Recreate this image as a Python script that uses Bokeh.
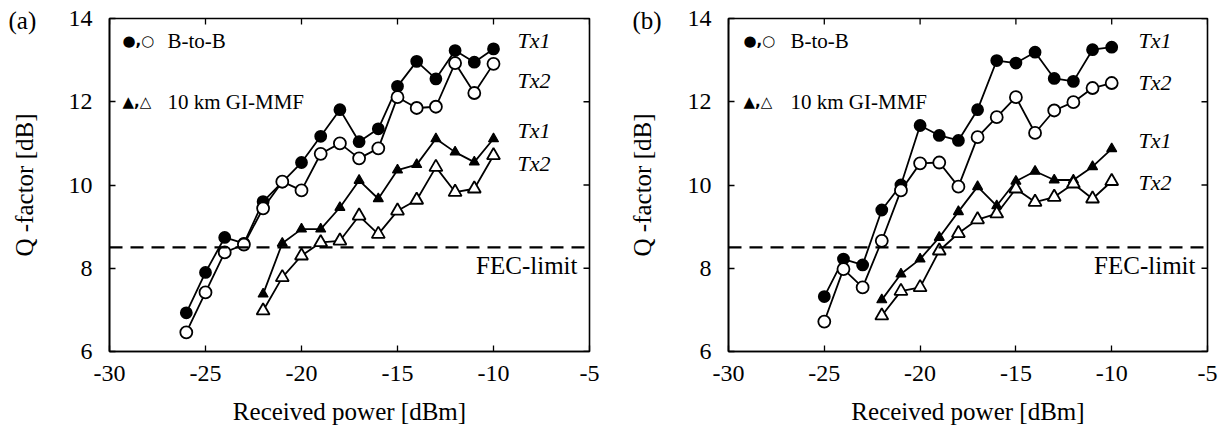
import math
from bokeh.plotting import figure
from bokeh.layouts import row
from bokeh.models import Range1d, FixedTicker, Span, Label, LinearAxis
from bokeh.embed import file_html
from bokeh.resources import INLINE

# ---------------- data ----------------
x_ticks = [-30, -25, -20, -15, -10, -5]
y_ticks = [6, 8, 10, 12, 14]
fec_limit = 8.5

# panel (a)
x_btb_a = [-26, -25, -24, -23, -22, -21, -20, -19, -18, -17, -16, -15, -14, -13, -12, -11, -10]
btb_tx1_a = [6.93, 7.90, 8.74, 8.60, 9.60, 10.07, 10.54, 11.17, 11.81, 11.04, 11.35, 12.37, 12.97, 12.55, 13.23, 12.95, 13.27]
btb_tx2_a = [6.46, 7.42, 8.38, 8.57, 9.44, 10.08, 9.87, 10.75, 11.00, 10.64, 10.88, 12.11, 11.85, 11.88, 12.93, 12.21, 12.91]
x_mmf_a = [-22, -21, -20, -19, -18, -17, -16, -15, -14, -13, -12, -11, -10]
mmf_tx1_a = [7.38, 8.60, 8.94, 8.94, 9.46, 10.11, 9.67, 10.36, 10.49, 11.11, 10.79, 10.55, 11.11]
mmf_tx2_a = [6.98, 7.78, 8.30, 8.62, 8.66, 9.26, 8.82, 9.38, 9.64, 10.43, 9.83, 9.91, 10.71]

# panel (b)
x_btb_b = [-25, -24, -23, -22, -21, -20, -19, -18, -17, -16, -15, -14, -13, -12, -11, -10]
btb_tx1_b = [7.32, 8.22, 8.08, 9.40, 10.00, 11.43, 11.19, 11.07, 11.81, 12.99, 12.93, 13.19, 12.56, 12.49, 13.25, 13.31]
btb_tx2_b = [6.72, 7.98, 7.54, 8.66, 9.87, 10.52, 10.54, 9.96, 11.15, 11.63, 12.11, 11.25, 11.79, 11.99, 12.33, 12.45]
x_mmf_b = [-22, -21, -20, -19, -18, -17, -16, -15, -14, -13, -12, -11, -10]
mmf_tx1_b = [7.24, 7.86, 8.22, 8.74, 9.36, 9.96, 9.50, 10.09, 10.33, 10.12, 10.12, 10.44, 10.87]
mmf_tx2_b = [6.86, 7.45, 7.54, 8.42, 8.84, 9.17, 9.31, 9.91, 9.59, 9.71, 10.03, 9.67, 10.09]

# Tx annotations: (text, y value)
tx_labels_a = [("Tx1", 13.47), ("Tx2", 12.51), ("Tx1", 11.31), ("Tx2", 10.51)]
tx_labels_b = [("Tx1", 13.47), ("Tx2", 12.46), ("Tx1", 11.07), ("Tx2", 10.06)]

SERIF = "Liberation Serif"


def style_axis(ax, ticks, standoff):
    ax.ticker = FixedTicker(ticks=ticks)
    ax.major_label_overrides = {t: str(t) for t in ticks}
    ax.axis_line_color = "black"
    ax.axis_line_width = 1.6
    ax.major_tick_in = 6
    ax.major_tick_out = 0
    ax.major_tick_line_color = "black"
    ax.major_tick_line_width = 1.3
    ax.minor_tick_in = 0
    ax.minor_tick_out = 0
    ax.major_label_text_font = SERIF
    ax.major_label_text_color = "black"
    ax.major_label_text_font_size = "24px"
    ax.major_label_standoff = standoff
    ax.axis_label_text_font = SERIF
    ax.axis_label_text_font_style = "normal"
    ax.axis_label_text_font_size = "25px"
    ax.axis_label_text_color = "black"


def make_panel(tag, tag_off, xb, b1, b2, xm, m1, m2, txl, fw, mbl, mbr,
               leg_sym_off, leg_txt_off, tx_x):
    p = figure(frame_width=fw, frame_height=333,
               x_range=Range1d(x_ticks[0], x_ticks[-1]), y_range=Range1d(y_ticks[0], y_ticks[-1]),
               output_backend="svg", toolbar_location=None,
               min_border_left=mbl, min_border_right=mbr,
               min_border_top=18, min_border_bottom=0,
               background_fill_color="white", border_fill_color="white")
    p.grid.visible = False
    p.outline_line_color = "black"
    p.outline_line_width = 1.6

    xa = p.xaxis[0]
    ya = p.yaxis[0]
    style_axis(xa, x_ticks, 14)
    style_axis(ya, y_ticks, 17)
    xa.axis_label = "Received power [dBm]"
    xa.axis_label_standoff = 14

    # panel tag, kept in the left side panel so that it is not clipped by the frame
    p.add_layout(Label(x=x_ticks[0], y=y_ticks[-1], x_offset=-tag_off, y_offset=-2, text=tag,
                       text_font=SERIF, text_font_size="25px", text_color="black",
                       text_baseline="alphabetic", text_align="left"), "left")

    # y-axis title on its own tick-less axis, outside the tag
    qa = LinearAxis(ticker=FixedTicker(ticks=[]), axis_label="Q -factor [dB]")
    qa.axis_line_color = None
    qa.major_tick_out = 0
    qa.major_tick_in = 0
    qa.minor_tick_in = 0
    qa.minor_tick_out = 0
    qa.major_label_standoff = 0
    qa.axis_label_standoff = 0
    qa.axis_label_text_font = SERIF
    qa.axis_label_text_font_style = "normal"
    qa.axis_label_text_font_size = "25px"
    qa.axis_label_text_color = "black"
    p.add_layout(qa, "left")

    # inward ticks on the top and right edges (half of each dash is clipped by the frame)
    p.scatter(x=x_ticks, y=[y_ticks[-1]] * len(x_ticks), marker="dash", angle=math.pi / 2,
              size=12, line_color="black", line_width=1.3)
    p.scatter(x=[x_ticks[-1]] * len(y_ticks), y=y_ticks, marker="dash",
              size=12, line_color="black", line_width=1.3)

    # FEC limit
    p.add_layout(Span(location=fec_limit, dimension="width", line_color="black",
                      line_width=2.2, line_dash="13 8"))

    lw = 1.8
    # B-to-B
    p.line(xb, b1, line_color="black", line_width=lw)
    p.scatter(xb, b1, marker="circle", size=11, fill_color="black", line_color="black", line_width=lw)
    p.line(xb, b2, line_color="black", line_width=lw)
    p.scatter(xb, b2, marker="circle", size=12, fill_color="white", line_color="black", line_width=lw)
    # 10 km GI-MMF
    p.line(xm, m1, line_color="black", line_width=lw)
    p.scatter(xm, m1, marker="triangle", size=10, fill_color="black", line_color="black", line_width=1.2)
    p.line(xm, m2, line_color="black", line_width=lw)
    p.scatter(xm, m2, marker="triangle", size=13, fill_color="white", line_color="black", line_width=lw)

    # legend (symbols as text)
    for sym, txt, yv in [("\u25CF,\u25CB", "B-to-B", 13.47),
                         ("\u25B2,\u25B3", "10 km GI-MMF", 12.0)]:
        p.add_layout(Label(x=x_ticks[0], y=yv, x_offset=leg_sym_off, text=sym,
                           text_font="DejaVu Sans", text_font_style="bold",
                           text_font_size="15px", text_color="black",
                           text_baseline="middle", text_align="left"))
        p.add_layout(Label(x=x_ticks[0], y=yv, x_offset=leg_txt_off, text=txt,
                           text_font=SERIF, text_font_size="21px", text_color="black",
                           text_baseline="middle", text_align="left"))

    # Tx annotations
    for txt, yv in txl:
        p.add_layout(Label(x=tx_x, y=yv, text=txt, text_font=SERIF,
                           text_font_style="italic", text_font_size="22px",
                           text_color="black", text_baseline="middle", text_align="left"))

    # FEC-limit text
    p.add_layout(Label(x=x_ticks[-1], y=8.06, x_offset=-12, text="FEC-limit", text_font=SERIF,
                       text_font_size="25px", text_color="black",
                       text_baseline="middle", text_align="right"))
    return p


p1 = make_panel("(a)", 101, x_btb_a, btb_tx1_a, btb_tx2_a, x_mmf_a, mmf_tx1_a, mmf_tx2_a,
                tx_labels_a, 480, 109, 20, 13, 58, -8.75)
p2 = make_panel("(b)", 96, x_btb_b, btb_tx1_b, btb_tx2_b, x_mmf_b, mmf_tx1_b, mmf_tx2_b,
                tx_labels_b, 479, 119, 20, 15, 62, -8.6)

layout = row(p1, p2)
open("out.html", "w").write(file_html(layout, INLINE))
